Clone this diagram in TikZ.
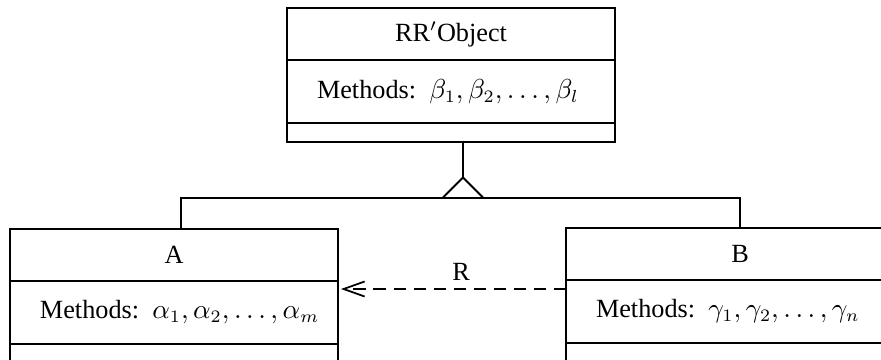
\documentclass[tikz,border=0pt]{standalone}
\usepackage{fontspec}
\setmainfont{Liberation Serif}
\usetikzlibrary{arrows.meta, positioning}

\begin{document}
\begin{tikzpicture}[
    x=0.4pt, y=-0.4pt,
    font=\fontsize{10.5}{13}\selectfont,
    compart/.style={rectangle, draw=black, line width=0.8pt, inner sep=0pt, outer sep=0pt, minimum width=131.2pt},
    titlebox/.style={compart, minimum height=20.8pt},
    methodbox/.style={compart, minimum height=25pt, align=left, text width=117.2pt, inner xsep=7pt, inner ysep=0pt},
    extrabox/.style={compart, minimum height=7.6pt},
    line/.style={draw=black, line width=0.8pt},
    dep/.style={draw=black, line width=0.7pt, dash pattern=on 5pt off 3pt, -{Straight Barb[length=8.4pt, width=6pt]}, shorten >=1.2pt}
]
    \useasboundingbox (0,0) rectangle (881,360);

    % Superclass
    \node[titlebox, anchor=north west] (objtitle) at (287,8) {RR$'$Object};
    \node[methodbox, below=0pt of objtitle] (objmethods) {\hspace*{5pt}Methods: $\beta_1, \beta_2, \ldots, \beta_l$};
    \node[extrabox, below=0pt of objmethods] (objextra) {};

    % Class A
    \node[titlebox, anchor=north west] (Atitle) at (10,229) {A};
    \node[methodbox, below=0pt of Atitle] (Amethods) {\hspace*{5pt}Methods: $\alpha_1, \alpha_2, \ldots, \alpha_m$};
    \node[extrabox, below=0pt of Amethods, minimum height=12pt] (Aextra) {};

    % Class B
    \node[titlebox, anchor=north west, minimum width=139.2pt] (Btitle) at (566,228) {B};
    \node[methodbox, below=0pt of Btitle, minimum width=139.2pt, text width=125.2pt] (Bmethods) {\hspace*{5pt}Methods: $\gamma_1, \gamma_2, \ldots, \gamma_n$};
    \node[extrabox, below=0pt of Bmethods, minimum width=139.2pt, minimum height=12pt] (Bextra) {};

    % Generalization
    \draw[line] ([xshift=4.8pt]objextra.south) -- ++(0,36) coordinate (apex);
    \path (apex) ++(0,20) coordinate (bus);
    \draw[line] (bus) ++(-20,0) -- (apex) -- ++(20,20);
    \draw[line] ([xshift=2.8pt]Atitle.north) |- (bus) -| (Btitle.north);

    % Dependency R
    \coordinate (depstart) at ([yshift=-3.6pt]Bmethods.north west);
    \draw[dep] (depstart) -- (depstart -| Amethods.east) node[pos=0.46, above, inner sep=3pt] (rlabel) {R};
\end{tikzpicture}
\end{document}
